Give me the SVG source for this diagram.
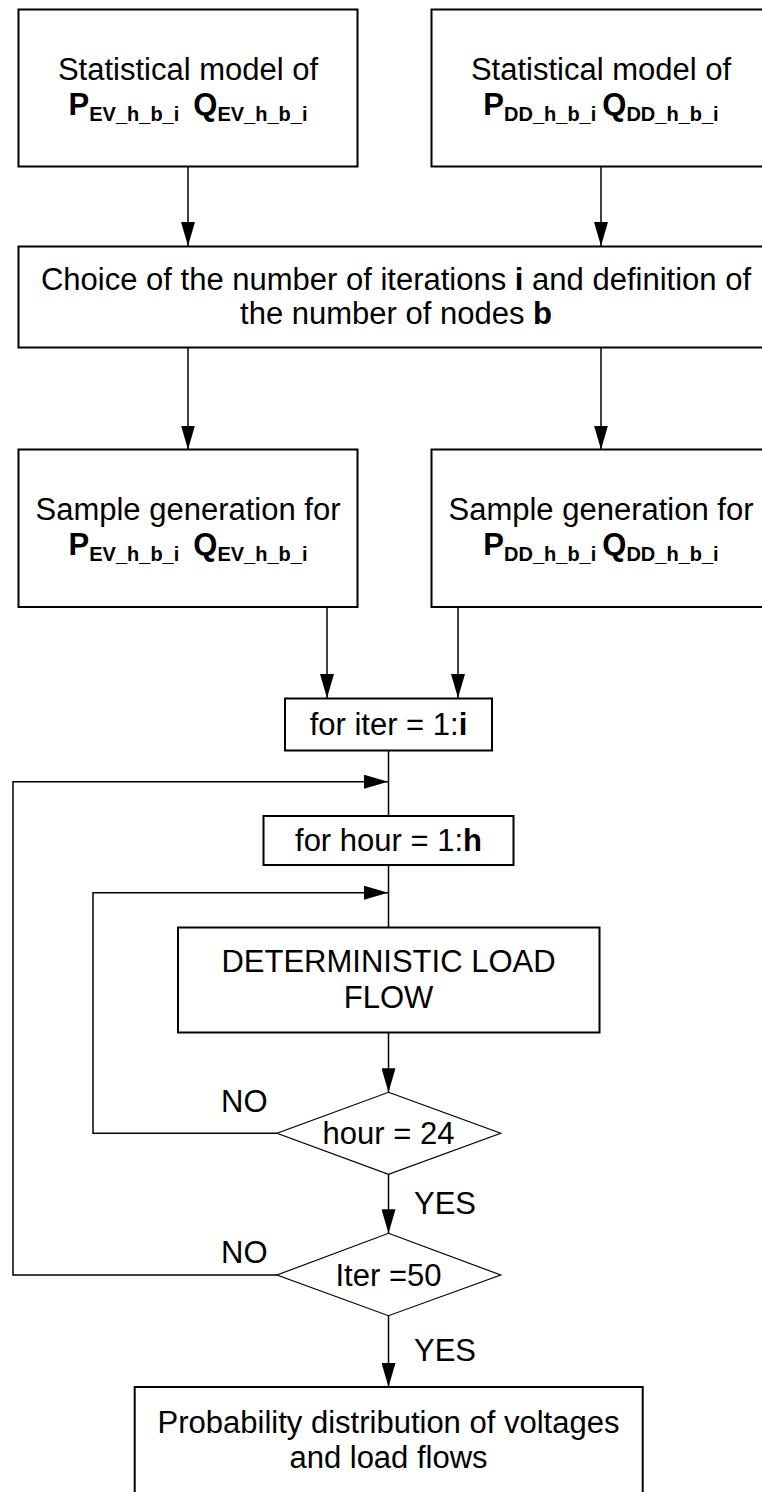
<svg xmlns="http://www.w3.org/2000/svg" width="762" height="1492" viewBox="0 0 762 1492">
  <style>
    text { font-family: "Liberation Sans", Arial, sans-serif; font-size: 31px; fill: #000; }
    .b { font-weight: bold; }
    .sub { font-weight: bold; font-size: 20px; }
    .box { fill: #fff; stroke: #000; stroke-width: 2; }
    .dia { fill: #fff; stroke: #000; stroke-width: 1.2; }
    .line { fill: none; stroke: #000; stroke-width: 1.5; }
    .arrow { fill: none; stroke: #000; stroke-width: 1.5; marker-end: url(#ah); }
  </style>
  <defs>
    <marker id="ah" viewBox="0 0 24 14" refX="24" refY="7" markerWidth="24" markerHeight="14" markerUnits="userSpaceOnUse" orient="auto">
      <path d="M0,0 L24,7 L0,14 z" fill="#000"/>
    </marker>
  </defs>
  <rect width="762" height="1492" fill="#fff"/>

  <g id="connectors">
    <line class="arrow" x1="188" y1="166.5" x2="188" y2="246"/>
    <line class="arrow" x1="601" y1="166.5" x2="601" y2="246"/>
    <line class="arrow" x1="188" y1="347.5" x2="188" y2="449.5"/>
    <line class="arrow" x1="601" y1="347.5" x2="601" y2="449.5"/>
    <line class="arrow" x1="327" y1="607" x2="327" y2="698"/>
    <line class="arrow" x1="458" y1="607" x2="458" y2="698"/>
    <line class="line" x1="388.5" y1="750.5" x2="388.5" y2="816"/>
    <line class="line" x1="388.5" y1="865" x2="388.5" y2="927.5"/>
    <line class="arrow" x1="388.5" y1="1032.5" x2="388.5" y2="1092.3"/>
    <line class="arrow" x1="388.5" y1="1174.3" x2="388.5" y2="1233.3"/>
    <line class="arrow" x1="388.5" y1="1315.7" x2="388.5" y2="1387"/>
    <polyline class="arrow" points="277,1133.3 93,1133.3 93,892.7 388,892.7"/>
    <polyline class="arrow" points="277,1275 13,1275 13,781.7 388,781.7"/>
    <text x="221" y="1112">NO</text>
    <text x="221" y="1263">NO</text>
    <text x="414" y="1214">YES</text>
    <text x="414" y="1361">YES</text>
  </g>

  <g id="stat-ev">
    <rect class="box" x="18.5" y="9.5" width="339" height="157"/>
    <text x="188" y="80" text-anchor="middle">Statistical model of</text>
    <text x="188" y="115" text-anchor="middle"><tspan class="b">P</tspan><tspan class="sub" dy="6">EV_h_b_i</tspan><tspan class="b" dx="14" dy="-6">Q</tspan><tspan class="sub" dy="6">EV_h_b_i</tspan></text>
  </g>

  <g id="stat-dd">
    <rect class="box" x="431.5" y="9.5" width="340" height="157"/>
    <text x="601" y="80" text-anchor="middle">Statistical model of</text>
    <text x="601" y="115" text-anchor="middle"><tspan class="b">P</tspan><tspan class="sub" dy="6">DD_h_b_i</tspan><tspan class="b" dx="6" dy="-6">Q</tspan><tspan class="sub" dy="6">DD_h_b_i</tspan></text>
  </g>

  <g id="choice">
    <rect class="box" x="18.5" y="246.5" width="753" height="101"/>
    <text x="396" y="290" text-anchor="middle">Choice of the number of iterations <tspan class="b">i</tspan> and definition of</text>
    <text x="396" y="324" text-anchor="middle">the number of nodes <tspan class="b">b</tspan></text>
  </g>

  <g id="sample-ev">
    <rect class="box" x="18.5" y="449.5" width="339" height="157.5"/>
    <text x="188" y="520" text-anchor="middle">Sample generation for</text>
    <text x="188" y="555" text-anchor="middle"><tspan class="b">P</tspan><tspan class="sub" dy="6">EV_h_b_i</tspan><tspan class="b" dx="14" dy="-6">Q</tspan><tspan class="sub" dy="6">EV_h_b_i</tspan></text>
  </g>

  <g id="sample-dd">
    <rect class="box" x="431.5" y="449.5" width="340" height="157.5"/>
    <text x="601" y="520" text-anchor="middle">Sample generation for</text>
    <text x="601" y="555" text-anchor="middle"><tspan class="b">P</tspan><tspan class="sub" dy="6">DD_h_b_i</tspan><tspan class="b" dx="6" dy="-6">Q</tspan><tspan class="sub" dy="6">DD_h_b_i</tspan></text>
  </g>

  <g id="for-iter">
    <rect class="box" x="285" y="698.5" width="207" height="52"/>
    <text x="388.5" y="735" text-anchor="middle">for iter = 1:<tspan class="b">i</tspan></text>
  </g>

  <g id="for-hour">
    <rect class="box" x="263.5" y="816" width="250" height="49"/>
    <text x="388.5" y="851" text-anchor="middle">for hour = 1:<tspan class="b">h</tspan></text>
  </g>

  <g id="load-flow">
    <rect class="box" x="178" y="927.5" width="421.5" height="105"/>
    <text x="388.5" y="972" text-anchor="middle">DETERMINISTIC LOAD</text>
    <text x="388.5" y="1008" text-anchor="middle">FLOW</text>
  </g>

  <g id="hour-check">
    <polygon class="dia" points="388.5,1092.3 500.7,1133.3 388.5,1174.3 277,1133.3"/>
    <text x="388.5" y="1144" text-anchor="middle">hour = 24</text>
  </g>

  <g id="iter-check">
    <polygon class="dia" points="388.5,1233.3 500.7,1275 388.5,1315.7 277,1275"/>
    <text x="388.5" y="1286" text-anchor="middle">Iter =50</text>
  </g>

  <g id="result">
    <rect class="box" x="134.7" y="1387" width="508" height="120"/>
    <text x="388.5" y="1433" text-anchor="middle">Probability distribution of voltages</text>
    <text x="388.5" y="1468" text-anchor="middle">and load flows</text>
  </g>
</svg>
